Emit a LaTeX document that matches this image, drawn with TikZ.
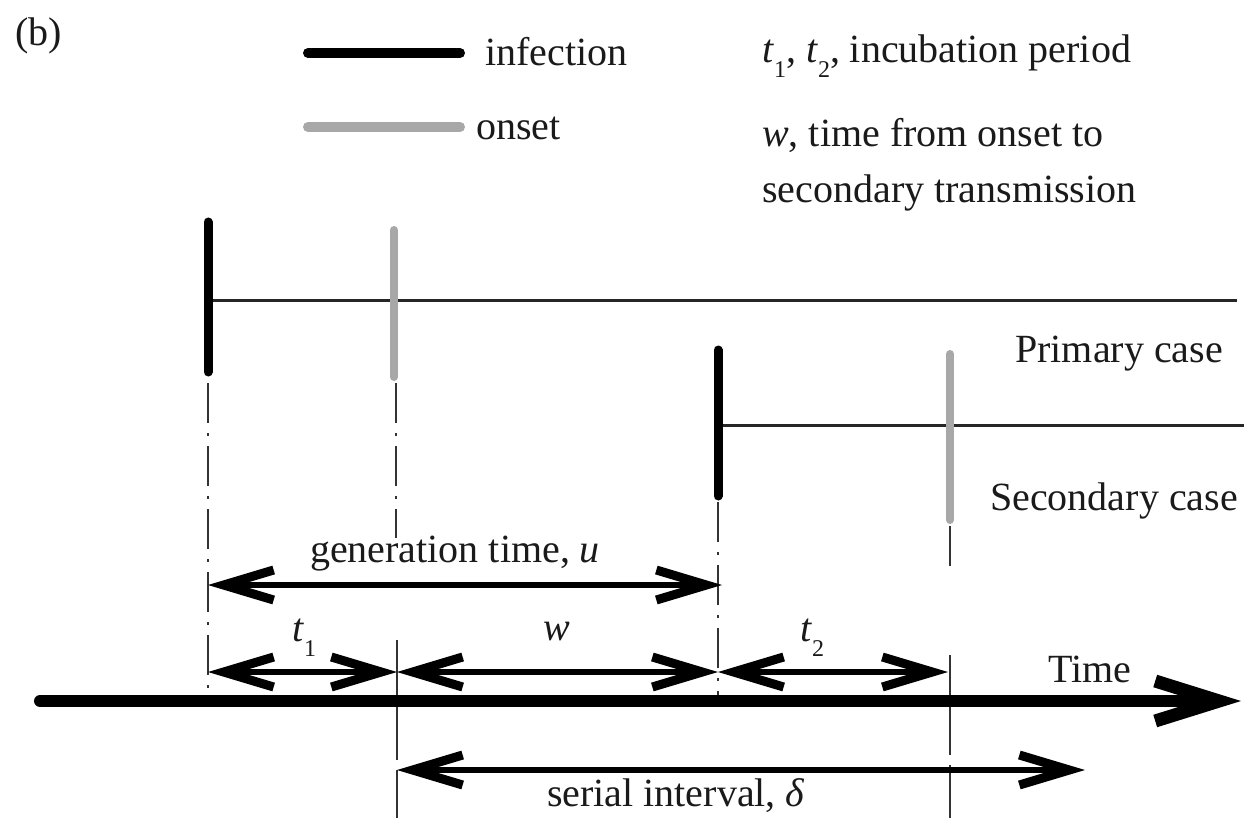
\documentclass[tikz,border=0pt]{standalone}
\usepackage{fontspec}
\setmainfont{Liberation Serif}
\usetikzlibrary{arrows.meta}
\definecolor{onsetgray}{HTML}{A8A8A8}
\definecolor{ink}{HTML}{1A1A1A}
\newcommand\tsub[1]{\textit{t}\raisebox{-15pt}{\fontsize{24}{26}\selectfont #1}}
\begin{document}
\begin{tikzpicture}[x=1pt,y=-1pt,
  lbl/.style={font=\fontsize{40}{46}\selectfont, inner sep=0pt, text=ink},
  infbar/.style={line width=9pt, line cap=round, black},
  onsbar/.style={line width=8pt, line cap=round, onsetgray},
  legline/.style={line width=10pt, line cap=round},
  caseline/.style={line width=3pt, black!85},
  guide/.style={line width=2pt, black!80, dash pattern=on 40pt off 10pt on 3pt off 10pt},
  dimarrow/.style={line width=6pt, black, {Straight Barb[length=50pt,width=30pt,line width=9pt]}-{Straight Barb[length=50pt,width=30pt,line width=9pt]}},
]
\useasboundingbox (0,0) rectangle (1244,818);
\fill[white] (0,0) rectangle (1244,818);

% panel label
\node[lbl, anchor=base west] (plabel) at (15,46) {(b)};

% legend
\coordinate (li1) at (308,53); \coordinate (li2) at (460,53);
\coordinate (lo1) at (308,127); \coordinate (lo2) at (460,127);
\draw[legline, black] (li1) -- (li2);
\draw[legline, onsetgray] (lo1) -- (lo2);
\node[lbl, anchor=base west] (tinf) at (485,66) {infection};
\node[lbl, anchor=base west] (tons) at (476,140) {onset};

\node[lbl, anchor=base west] (tinc) at (762,63) {\tsub{1}, \tsub{2}, incubation period};
\node[lbl, anchor=base west] (tw1) at (762,147) {\textit{w}, time from onset to};
\node[lbl, anchor=base west] (tw2) at (762,203) {secondary transmission};

% primary case
\coordinate (pi1) at (208,222); \coordinate (pi2) at (208,372);
\coordinate (po1) at (394,230); \coordinate (po2) at (394,377);
\coordinate (ph1) at (208,300); \coordinate (ph2) at (1237,300);
\draw[caseline] (ph1) -- (ph2);
\draw[infbar] (pi1) -- (pi2);
\draw[onsbar] (po1) -- (po2);
\node[lbl, anchor=base west] (tprim) at (1015,362) {Primary case};

% secondary case
\coordinate (si1) at (718,350); \coordinate (si2) at (718,496);
\coordinate (so1) at (950,354); \coordinate (so2) at (950,520);
\coordinate (sh1) at (718,425); \coordinate (sh2) at (1244,425);
\draw[caseline] (sh1) -- (sh2);
\draw[infbar] (si1) -- (si2);
\draw[onsbar] (so1) -- (so2);
\node[lbl, anchor=base west] (tsec) at (990,510) {Secondary case};

% guide lines
\coordinate (g1a) at (208,383); \coordinate (g1b) at (208,698);
\coordinate (g2a) at (396,383); \coordinate (g2b) at (396,538);
\coordinate (g2c) at (397,640); \coordinate (g2d) at (397,818);
\coordinate (g3a) at (718,502); \coordinate (g3b) at (718,698);
\coordinate (g4a) at (950,526); \coordinate (g4b) at (950,572);
\coordinate (g4c) at (950,655); \coordinate (g4d) at (950,818);
\draw[guide] (g1a) -- (g1b);
\draw[guide] (g2a) -- (g2b);
\draw[guide, dash pattern=on 120pt off 10pt] (g2c) -- (g2d);
\draw[guide] (g3a) -- (g3b);
\draw[guide] (g4a) -- (g4b);
\draw[guide, dash pattern=on 100pt off 10pt] (g4c) -- (g4d);

% time axis
\coordinate (ax1) at (40,701); \coordinate (ax2) at (1241,701);
\draw[line width=12pt, line cap=round, black, -{Straight Barb[length=64pt,width=40pt,line width=13pt]}] (ax1) -- (ax2);
\node[lbl, anchor=base west] (ttime) at (1048,682) {Time};

% generation time
\coordinate (gen1) at (208,585); \coordinate (gen2) at (722,585);
\draw[dimarrow] (gen1) -- (gen2);
\node[lbl, anchor=base] (tgen) at (455,562) {generation time, \textit{u}};

% t1, w, t2
\coordinate (m0) at (208,672); \coordinate (m1) at (397,672);
\coordinate (m2) at (718,672); \coordinate (m3) at (948,672);
\draw[dimarrow] (m0) -- (m1);
\draw[dimarrow] (m1) -- (m2);
\draw[dimarrow] (m2) -- (m3);
\node[lbl, anchor=base west] (tt1) at (292,641) {\tsub{1}};
\node[lbl, anchor=base] (tww) at (557,640) {\textit{w}};
\node[lbl, anchor=base west] (tt2) at (800,641) {\tsub{2}};

% serial interval
\coordinate (s1) at (397,770); \coordinate (s2) at (1085,770);
\draw[dimarrow] (s1) -- (s2);
\node[lbl, anchor=base] (tser) at (676,806) {serial interval, \textit{δ}};
\end{tikzpicture}
\end{document}
